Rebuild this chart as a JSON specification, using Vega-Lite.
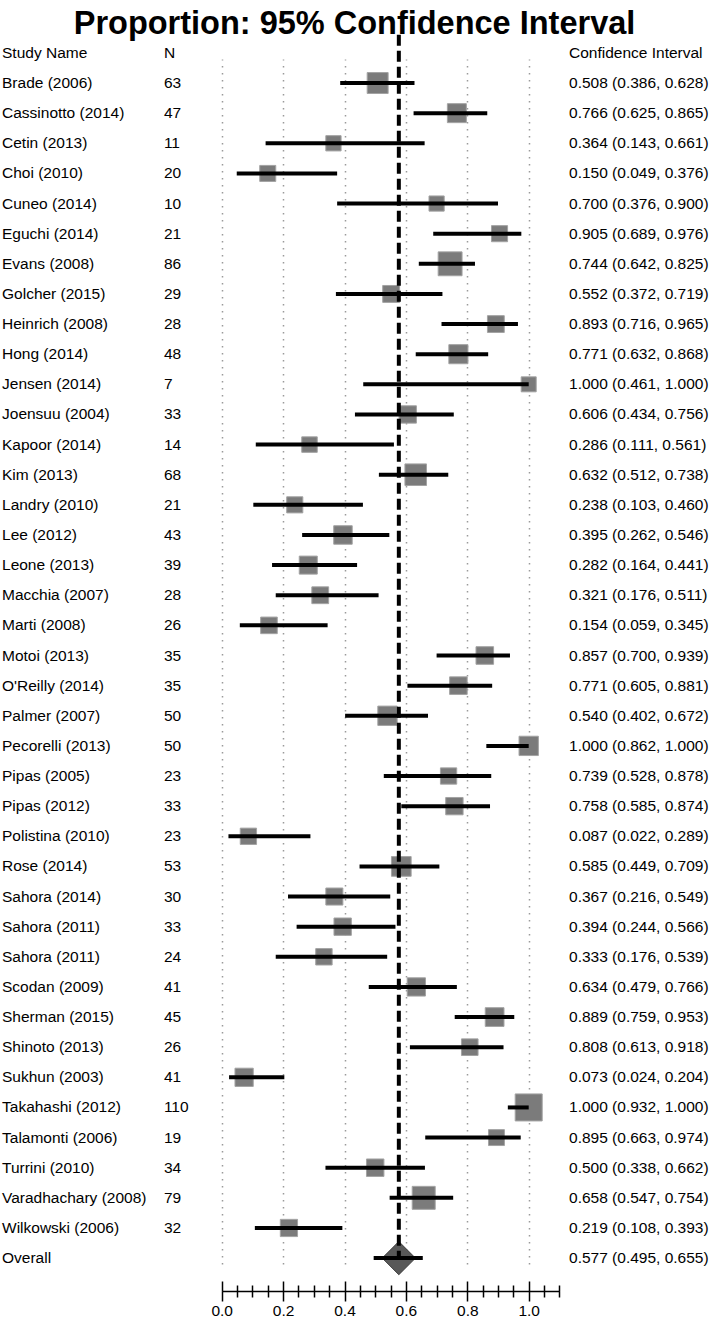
{
  "$schema": "https://vega.github.io/schema/vega-lite/v6.json",
  "width": 709,
  "height": 1233,
  "autosize": "none",
  "padding": {"top": 42, "left": 0, "right": 0, "bottom": 48},
  "background": "white",
  "title": {
    "text": "Proportion: 95% Confidence Interval",
    "anchor": "middle",
    "font": "Liberation Sans",
    "fontSize": 32.5,
    "fontWeight": "bold",
    "color": "black",
    "offset": 9,
    "dy": 17
  },
  "config": {
    "view": {"stroke": null},
    "text": {"font": "Liberation Sans", "fontSize": 15.5, "color": "black", "align": "left", "baseline": "middle"}
  },
  "data": {
    "values": [
      {"row": 1, "study": "Brade (2006)", "n": 63, "est": 0.508, "lo": 0.386, "hi": 0.628, "label": "0.508 (0.386, 0.628)"},
      {"row": 2, "study": "Cassinotto (2014)", "n": 47, "est": 0.766, "lo": 0.625, "hi": 0.865, "label": "0.766 (0.625, 0.865)"},
      {"row": 3, "study": "Cetin (2013)", "n": 11, "est": 0.364, "lo": 0.143, "hi": 0.661, "label": "0.364 (0.143, 0.661)"},
      {"row": 4, "study": "Choi (2010)", "n": 20, "est": 0.150, "lo": 0.049, "hi": 0.376, "label": "0.150 (0.049, 0.376)"},
      {"row": 5, "study": "Cuneo (2014)", "n": 10, "est": 0.700, "lo": 0.376, "hi": 0.900, "label": "0.700 (0.376, 0.900)"},
      {"row": 6, "study": "Eguchi (2014)", "n": 21, "est": 0.905, "lo": 0.689, "hi": 0.976, "label": "0.905 (0.689, 0.976)"},
      {"row": 7, "study": "Evans (2008)", "n": 86, "est": 0.744, "lo": 0.642, "hi": 0.825, "label": "0.744 (0.642, 0.825)"},
      {"row": 8, "study": "Golcher (2015)", "n": 29, "est": 0.552, "lo": 0.372, "hi": 0.719, "label": "0.552 (0.372, 0.719)"},
      {"row": 9, "study": "Heinrich (2008)", "n": 28, "est": 0.893, "lo": 0.716, "hi": 0.965, "label": "0.893 (0.716, 0.965)"},
      {"row": 10, "study": "Hong (2014)", "n": 48, "est": 0.771, "lo": 0.632, "hi": 0.868, "label": "0.771 (0.632, 0.868)"},
      {"row": 11, "study": "Jensen (2014)", "n": 7, "est": 1.000, "lo": 0.461, "hi": 1.000, "label": "1.000 (0.461, 1.000)"},
      {"row": 12, "study": "Joensuu (2004)", "n": 33, "est": 0.606, "lo": 0.434, "hi": 0.756, "label": "0.606 (0.434, 0.756)"},
      {"row": 13, "study": "Kapoor (2014)", "n": 14, "est": 0.286, "lo": 0.111, "hi": 0.561, "label": "0.286 (0.111, 0.561)"},
      {"row": 14, "study": "Kim (2013)", "n": 68, "est": 0.632, "lo": 0.512, "hi": 0.738, "label": "0.632 (0.512, 0.738)"},
      {"row": 15, "study": "Landry (2010)", "n": 21, "est": 0.238, "lo": 0.103, "hi": 0.460, "label": "0.238 (0.103, 0.460)"},
      {"row": 16, "study": "Lee (2012)", "n": 43, "est": 0.395, "lo": 0.262, "hi": 0.546, "label": "0.395 (0.262, 0.546)"},
      {"row": 17, "study": "Leone (2013)", "n": 39, "est": 0.282, "lo": 0.164, "hi": 0.441, "label": "0.282 (0.164, 0.441)"},
      {"row": 18, "study": "Macchia (2007)", "n": 28, "est": 0.321, "lo": 0.176, "hi": 0.511, "label": "0.321 (0.176, 0.511)"},
      {"row": 19, "study": "Marti (2008)", "n": 26, "est": 0.154, "lo": 0.059, "hi": 0.345, "label": "0.154 (0.059, 0.345)"},
      {"row": 20, "study": "Motoi (2013)", "n": 35, "est": 0.857, "lo": 0.700, "hi": 0.939, "label": "0.857 (0.700, 0.939)"},
      {"row": 21, "study": "O'Reilly (2014)", "n": 35, "est": 0.771, "lo": 0.605, "hi": 0.881, "label": "0.771 (0.605, 0.881)"},
      {"row": 22, "study": "Palmer (2007)", "n": 50, "est": 0.540, "lo": 0.402, "hi": 0.672, "label": "0.540 (0.402, 0.672)"},
      {"row": 23, "study": "Pecorelli (2013)", "n": 50, "est": 1.000, "lo": 0.862, "hi": 1.000, "label": "1.000 (0.862, 1.000)"},
      {"row": 24, "study": "Pipas (2005)", "n": 23, "est": 0.739, "lo": 0.528, "hi": 0.878, "label": "0.739 (0.528, 0.878)"},
      {"row": 25, "study": "Pipas (2012)", "n": 33, "est": 0.758, "lo": 0.585, "hi": 0.874, "label": "0.758 (0.585, 0.874)"},
      {"row": 26, "study": "Polistina (2010)", "n": 23, "est": 0.087, "lo": 0.022, "hi": 0.289, "label": "0.087 (0.022, 0.289)"},
      {"row": 27, "study": "Rose (2014)", "n": 53, "est": 0.585, "lo": 0.449, "hi": 0.709, "label": "0.585 (0.449, 0.709)"},
      {"row": 28, "study": "Sahora (2014)", "n": 30, "est": 0.367, "lo": 0.216, "hi": 0.549, "label": "0.367 (0.216, 0.549)"},
      {"row": 29, "study": "Sahora (2011)", "n": 33, "est": 0.394, "lo": 0.244, "hi": 0.566, "label": "0.394 (0.244, 0.566)"},
      {"row": 30, "study": "Sahora (2011)", "n": 24, "est": 0.333, "lo": 0.176, "hi": 0.539, "label": "0.333 (0.176, 0.539)"},
      {"row": 31, "study": "Scodan (2009)", "n": 41, "est": 0.634, "lo": 0.479, "hi": 0.766, "label": "0.634 (0.479, 0.766)"},
      {"row": 32, "study": "Sherman (2015)", "n": 45, "est": 0.889, "lo": 0.759, "hi": 0.953, "label": "0.889 (0.759, 0.953)"},
      {"row": 33, "study": "Shinoto (2013)", "n": 26, "est": 0.808, "lo": 0.613, "hi": 0.918, "label": "0.808 (0.613, 0.918)"},
      {"row": 34, "study": "Sukhun (2003)", "n": 41, "est": 0.073, "lo": 0.024, "hi": 0.204, "label": "0.073 (0.024, 0.204)"},
      {"row": 35, "study": "Takahashi (2012)", "n": 110, "est": 1.000, "lo": 0.932, "hi": 1.000, "label": "1.000 (0.932, 1.000)"},
      {"row": 36, "study": "Talamonti (2006)", "n": 19, "est": 0.895, "lo": 0.663, "hi": 0.974, "label": "0.895 (0.663, 0.974)"},
      {"row": 37, "study": "Turrini (2010)", "n": 34, "est": 0.500, "lo": 0.338, "hi": 0.662, "label": "0.500 (0.338, 0.662)"},
      {"row": 38, "study": "Varadhachary (2008)", "n": 79, "est": 0.658, "lo": 0.547, "hi": 0.754, "label": "0.658 (0.547, 0.754)"},
      {"row": 39, "study": "Wilkowski (2006)", "n": 32, "est": 0.219, "lo": 0.108, "hi": 0.393, "label": "0.219 (0.108, 0.393)"},
      {"row": 40, "study": "Overall", "n": null, "est": 0.577, "lo": 0.495, "hi": 0.655, "label": "0.577 (0.495, 0.655)"}
    ]
  },
  "resolve": {"axis": {"x": "independent"}},
  "layer": [
    {
      "transform": [{"filter": "isValid(datum.n)"}],
      "mark": {"type": "point", "shape": "square", "filled": true, "color": "#7b7b7b", "stroke": "#a3a3a3", "strokeWidth": 1, "opacity": 1},
      "encoding": {
        "x": {
          "field": "est", "type": "quantitative",
          "scale": {"domain": [0, 1.1], "range": [221.7, 559.4], "nice": false, "zero": false},
          "axis": {
            "orient": "bottom", "offset": 16, "title": null,
            "values": [0, 0.05, 0.1, 0.15, 0.2, 0.25, 0.3, 0.35, 0.4, 0.45, 0.5, 0.55, 0.6, 0.65, 0.7, 0.75, 0.8, 0.85, 0.9, 0.95, 1.0, 1.05, 1.1],
            "domain": true, "domainColor": "black", "domainWidth": 1.5,
            "ticks": true, "tickColor": "black", "tickWidth": 1.5,
            "tickSize": {"condition": {"test": "abs(datum.value * 5 - round(datum.value * 5)) < 0.000001", "value": 10}, "value": 6},
            "labelExpr": "abs(datum.value * 5 - round(datum.value * 5)) < 0.000001 && datum.value <= 1.0001 ? format(datum.value, '.1f') : ''",
            "labelFont": "Liberation Sans", "labelFontSize": 15.5, "labelColor": "black", "labelPadding": 2, "labelFlush": false, "labelOverlap": false,
            "grid": true, "gridColor": "#9a9a9a", "gridWidth": 1.5, "gridDash": [1.5, 5.5],
            "gridOpacity": {"condition": {"test": "abs(datum.value * 5 - round(datum.value * 5)) < 0.000001 && datum.value <= 1.0001", "value": 1}, "value": 0}
          }
        },
        "y": {"field": "row", "type": "quantitative", "scale": {"domain": [0, 40], "range": [10.9, 1216.1], "nice": false, "zero": false}, "axis": null},
        "size": {"field": "n", "type": "quantitative", "scale": {"type": "pow", "exponent": 1.5, "domain": [7, 110], "range": [225, 729]}, "legend": null}
      }
    },
    {
      "transform": [{"filter": "datum.study === 'Overall'"}],
      "mark": {"type": "point", "shape": "diamond", "filled": true, "color": "#585858", "stroke": "#3a3a3a", "strokeWidth": 1, "opacity": 1, "size": 1100},
      "encoding": {
        "x": {
          "field": "est", "type": "quantitative",
          "axis": {
            "orient": "bottom", "offset": 16, "title": null,
            "values": [0, 0.05, 0.1, 0.15, 0.2, 0.25, 0.3, 0.35, 0.4, 0.45, 0.5, 0.55, 0.6, 0.65, 0.7, 0.75, 0.8, 0.85, 0.9, 0.95, 1.0, 1.05, 1.1],
            "domain": false, "labels": false, "grid": false,
            "ticks": true, "tickColor": "black", "tickWidth": 1.5,
            "tickSize": {"condition": {"test": "abs(datum.value * 5 - round(datum.value * 5)) < 0.000001", "value": -10}, "value": -6}
          }
        },
        "y": {"field": "row", "type": "quantitative"}
      }
    },
    {
      "transform": [{"filter": "datum.study === 'Overall'"}],
      "mark": {"type": "rule", "color": "black", "strokeWidth": 4, "strokeDash": [11, 5]},
      "encoding": {
        "x": {"field": "est", "type": "quantitative", "axis": null},
        "y": {"datum": -0.6, "type": "quantitative"},
        "y2": {"datum": 40}
      }
    },
    {
      "mark": {"type": "rule", "color": "black", "strokeWidth": 4},
      "encoding": {
        "x": {"field": "lo", "type": "quantitative", "axis": null},
        "x2": {"field": "hi"},
        "y": {"field": "row", "type": "quantitative"}
      }
    },
    {
      "mark": {"type": "text"},
      "encoding": {
        "x": {"datum": -0.7156, "type": "quantitative", "axis": null},
        "y": {"field": "row", "type": "quantitative"},
        "text": {"field": "study", "type": "nominal"}
      }
    },
    {
      "transform": [{"filter": "isValid(datum.n)"}],
      "mark": {"type": "text"},
      "encoding": {
        "x": {"datum": -0.1883, "type": "quantitative", "axis": null},
        "y": {"field": "row", "type": "quantitative"},
        "text": {"field": "n", "type": "nominal"}
      }
    },
    {
      "mark": {"type": "text"},
      "encoding": {
        "x": {"datum": 1.1313, "type": "quantitative", "axis": null},
        "y": {"field": "row", "type": "quantitative"},
        "text": {"field": "label", "type": "nominal"}
      }
    },
    {
      "data": {"values": [{"t": "Study Name", "c": -0.7156}, {"t": "N", "c": -0.1883}, {"t": "Confidence Interval", "c": 1.1313}]},
      "mark": {"type": "text"},
      "encoding": {
        "x": {"field": "c", "type": "quantitative", "axis": null},
        "y": {"datum": 0, "type": "quantitative"},
        "text": {"field": "t", "type": "nominal"}
      }
    }
  ]
}
